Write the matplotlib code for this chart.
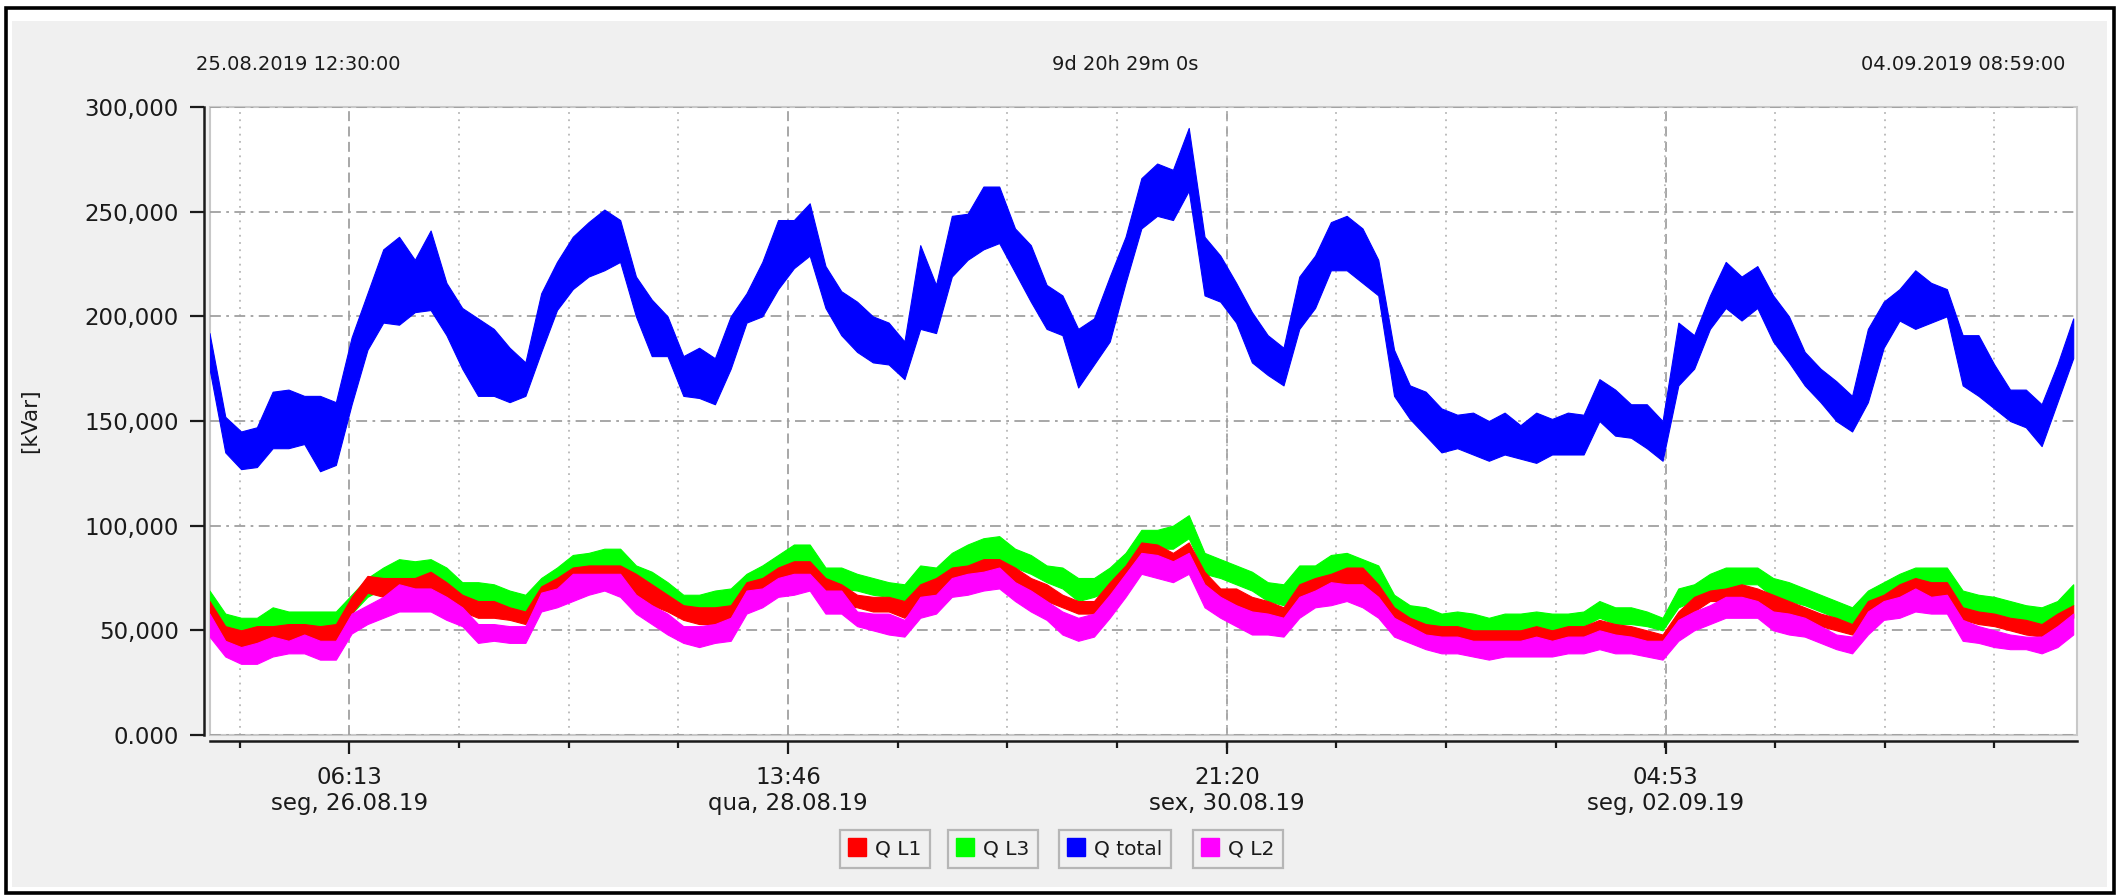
"""
Reactive power per phase and total, 25.08.2019 - 04.09.2019.
Writes out.png (2119 x 896) in the style of the metering software export.
"""
import numpy as np
import matplotlib
matplotlib.use("Agg")
import matplotlib.pyplot as plt
from matplotlib.lines import Line2D
from matplotlib.patches import Rectangle
from matplotlib.ticker import FixedLocator

INK, PANEL = "#1A1A1A", "#F0F0F0"
GRID, GRID_MINOR, FRAME = "#A0A0A0", "#B8B8B8", "#C8C8C8"
RED, GREEN, BLUE, MAGENTA = "#FF0000", "#00FF00", "#0000FF", "#FF00FF"

START_LABEL = "25.08.2019 12:30:00"
SPAN_LABEL = "9d 20h 29m 0s"
END_LABEL = "04.09.2019 08:59:00"
SPAN_HOURS = 236.48

# axis ticks (hours after 25.08.2019 12:30)
MAJOR_HOURS = [17.717, 73.267, 128.833, 184.383]
MAJOR_LABELS = ["06:13\nseg, 26.08.19", "13:46\nqua, 28.08.19",
                "21:20\nsex, 30.08.19", "04:53\nseg, 02.09.19"]
YTICKS = [0, 50, 100, 150, 200, 250, 300]
YTICK_LABELS = ["0.000", "50,000", "100,000", "150,000", "200,000",
                "250,000", "300,000"]

# band envelopes (low / high) of each 1-min series, sampled every 2 h, kVar
HOURS = np.arange(0, 237, 2)

QT_HI = [192, 152, 145, 147, 164, 165, 162, 162, 159, 190, 211, 232, 238, 227,
         241, 216, 204, 199, 194, 185, 178, 211, 226, 238, 245, 251, 246, 219,
         208, 200, 181, 185, 180, 200, 211, 226, 246, 246, 254, 224,
         212, 207, 200, 197, 188, 234, 215, 248, 249, 262, 262, 242, 234, 215,
         210, 194, 199, 219, 238, 266, 273, 270, 290, 238, 229, 216, 202, 191,
         185, 219, 229, 245, 248, 242, 227, 184, 167, 164, 156,
         153, 154, 150, 154, 148, 154, 151, 154, 153, 170, 165, 158, 158, 150,
         197, 191, 210, 226, 219, 224, 210, 200, 183, 175, 169, 162, 194, 207,
         213, 222, 216, 213, 191, 191, 177, 165, 165, 158, 177, 199]
QT_LO = [175, 135, 127, 128, 137, 137, 139, 126, 129, 158, 184, 197, 196, 202,
         203, 191, 175, 162, 162, 159, 162, 183, 203, 213, 219, 222, 226, 200,
         181, 181, 162, 161, 158, 175, 197, 200, 213, 223, 229, 204,
         191, 183, 178, 177, 170, 194, 192, 219, 227, 232, 235, 221, 207, 194,
         191, 166, 177, 188, 216, 242, 248, 246, 260, 210, 207, 197, 178, 172,
         167, 194, 204, 222, 222, 216, 210, 162, 151, 143, 135,
         137, 134, 131, 134, 132, 130, 134, 134, 134, 150, 143, 142, 137, 131,
         167, 175, 194, 204, 198, 204, 188, 178, 167, 159, 150, 145, 159, 185,
         198, 194, 197, 200, 167, 162, 156, 150, 147, 138, 159, 180]

L3_HI = [69, 58, 56, 56, 61, 59, 59, 59, 59, 67, 75, 80, 84, 83, 84, 80, 73,
         73, 72, 69, 67, 75, 80, 86, 87, 89, 89, 81, 78, 73, 67, 67, 69, 70,
         77, 81, 86, 91, 91, 80,
         80, 77, 75, 73, 72, 81, 80, 87, 91, 94, 95, 89, 86, 81, 80, 75, 75,
         80, 87, 98, 98, 100, 105, 87, 84, 81, 78, 73, 72, 81, 81, 86, 87, 84,
         81, 67, 62, 61, 58,
         59, 58, 56, 58, 58, 59, 58, 58, 59, 64, 61, 61, 59, 56, 70, 72, 77,
         80, 80, 80, 75, 73, 70, 67, 64, 61, 69, 73, 77, 80, 80, 80, 69, 67,
         66, 64, 62, 61, 64, 72]
L3_LO = [60, 48, 47, 48, 52, 52, 52, 52, 52, 58, 66, 70, 73, 75, 75, 70, 66,
         64, 62, 61, 59, 64, 70, 75, 78, 80, 78, 72, 69, 64, 61, 61, 59, 61,
         67, 72, 77, 80, 81, 70,
         70, 69, 67, 66, 64, 72, 70, 77, 80, 83, 84, 80, 77, 73, 70, 64, 66,
         69, 77, 87, 89, 89, 94, 77, 75, 72, 69, 64, 62, 70, 72, 77, 77, 75,
         72, 59, 53, 53, 50,
         50, 50, 48, 50, 50, 52, 50, 52, 52, 56, 53, 53, 52, 50, 61, 64, 67,
         70, 72, 72, 66, 64, 62, 59, 56, 53, 61, 64, 67, 70, 70, 70, 61, 59,
         58, 56, 55, 53, 56, 62]

L1_HI = [64, 52, 50, 52, 52, 53, 53, 52, 53, 66, 76, 75, 75, 75, 78, 73, 67,
         64, 64, 61, 59, 71, 75, 80, 81, 81, 81, 77, 72, 67, 62, 61, 61, 62,
         73, 75, 80, 83, 83, 75,
         72, 67, 66, 66, 64, 72, 75, 80, 81, 84, 84, 80, 75, 72, 67, 64, 64,
         73, 81, 92, 91, 87, 92, 78, 70, 70, 66, 64, 61, 72, 75, 77, 80, 80,
         72, 61, 56, 53, 52,
         52, 50, 50, 50, 50, 52, 50, 52, 52, 55, 53, 52, 50, 48, 59, 66, 69,
         70, 72, 70, 67, 64, 61, 58, 56, 53, 64, 67, 72, 75, 73, 73, 61, 59,
         58, 56, 55, 53, 58, 62]
L1_LO = [55, 44, 42, 42, 45, 45, 45, 44, 45, 58, 68, 66, 67, 69, 70, 64, 59,
         56, 56, 55, 53, 62, 67, 70, 73, 73, 72, 67, 62, 59, 55, 53, 53, 55,
         64, 67, 70, 75, 73, 66,
         62, 61, 59, 59, 56, 64, 66, 72, 73, 75, 77, 70, 66, 64, 61, 58, 58,
         64, 73, 83, 83, 80, 83, 70, 64, 62, 59, 56, 55, 64, 66, 70, 72, 72,
         64, 55, 48, 47, 45,
         44, 44, 44, 44, 44, 45, 45, 45, 45, 48, 47, 47, 45, 44, 52, 59, 64,
         64, 66, 64, 59, 58, 55, 52, 50, 48, 56, 61, 64, 67, 66, 66, 55, 53,
         52, 50, 48, 47, 50, 56]

L2_HI = [58, 45, 42, 44, 47, 45, 48, 45, 45, 58, 62, 66, 72, 70, 70, 66, 61,
         53, 53, 52, 52, 68, 70, 77, 77, 77, 77, 67, 62, 58, 52, 52, 53, 56,
         69, 70, 75, 77, 77, 69,
         69, 59, 58, 58, 55, 66, 67, 75, 77, 78, 80, 73, 69, 64, 59, 56, 58,
         67, 77, 87, 86, 83, 87, 72, 66, 62, 59, 58, 56, 66, 69, 73, 72, 72,
         66, 56, 52, 48, 47,
         47, 45, 45, 45, 45, 47, 45, 47, 47, 50, 48, 47, 45, 45, 55, 59, 62,
         66, 66, 64, 59, 58, 56, 52, 48, 47, 59, 64, 66, 70, 66, 67, 55, 52,
         50, 48, 47, 47, 52, 58]
L2_LO = [47, 37.5, 34, 34, 37.5, 39, 39, 36, 36, 48.5, 53, 56, 59, 59, 59, 55,
         52, 44, 45, 44, 44, 59, 61, 64, 67, 69, 66, 58, 53, 48, 44, 42, 44,
         45, 58, 61, 66, 67, 69, 58,
         58, 52, 50, 48, 47, 56, 58, 66, 67, 69, 70, 64, 59, 55, 48, 45, 47,
         56, 66, 77, 75, 73, 77, 61, 56, 52, 48, 48, 47, 56, 61, 62, 64, 61,
         56, 47, 44, 41, 39,
         39, 37.5, 36, 37.5, 37.5, 37.5, 37.5, 39, 39, 41, 39, 39, 37.5, 36,
         45, 50, 53, 56, 56, 56, 50, 48, 47, 44, 41, 39, 48, 55, 56, 59, 58,
         58, 45, 44, 42, 41, 41, 39, 42, 48]

# legend order as shown under the chart
SERIES = [("Q L1", RED, L1_LO, L1_HI, 3),
          ("Q L3", GREEN, L3_LO, L3_HI, 2),
          ("Q total", BLUE, QT_LO, QT_HI, 3),
          ("Q L2", MAGENTA, L2_LO, L2_HI, 4)]


def px(x, y):
    """figure pixel (from top-left) -> figure fraction"""
    return x / 2119, 1 - y / 896


def draw_frame(fig):
    fig.patches.append(Rectangle(px(12, 887), 2095 / 2119, 866 / 896,
                                 transform=fig.transFigure, fc=PANEL,
                                 ec="none", zorder=-10))
    fig.patches.append(Rectangle(px(6, 893), 2108 / 2119, 885 / 896,
                                 transform=fig.transFigure, fill=False,
                                 ec="black", lw=2.6, zorder=-9))


def style_axes(ax):
    ax.set_facecolor("white")
    ax.set_xlim(0, SPAN_HOURS)
    ax.set_ylim(0, 300)
    for side in ("top", "right"):
        ax.spines[side].set_visible(False)
    for side in ("left", "bottom"):
        ax.spines[side].set_position(("outward", 4))
        ax.spines[side].set_color(INK)
        ax.spines[side].set_linewidth(1.8)
    ax.add_patch(Rectangle((0, 0), 1, 1, transform=ax.transAxes, fill=False,
                           ec=FRAME, lw=1.5, zorder=0.4, clip_on=False))

    quarter = (MAJOR_HOURS[1] - MAJOR_HOURS[0]) / 4
    minor = np.arange(MAJOR_HOURS[0] - quarter, SPAN_HOURS, quarter)
    ax.xaxis.set_major_locator(FixedLocator(MAJOR_HOURS))
    ax.xaxis.set_minor_locator(FixedLocator(minor))
    ax.set_xticklabels(MAJOR_LABELS)
    ax.set_yticks(YTICKS)
    ax.set_yticklabels(YTICK_LABELS)

    ax.tick_params(axis="y", length=10, width=1.6, pad=8, labelsize=16.5,
                   colors=INK)
    ax.tick_params(axis="x", which="major", length=9.5, width=1.6, pad=8.5,
                   labelsize=16.5, colors=INK)
    ax.tick_params(axis="x", which="minor", length=5, width=1.6, colors=INK)

    ax.set_axisbelow(True)
    ax.grid(axis="y", which="major", color=GRID, lw=1.3,
            ls=(0, (6, 3, 1.5, 3)))
    ax.grid(axis="x", which="major", color=GRID, lw=1.3, ls=(0, (5.5, 3)))
    ax.grid(axis="x", which="minor", color=GRID_MINOR, lw=1.3, ls=(0, (1, 3)))


def draw_legend(fig):
    centres = [885, 993, 1115, 1238]
    for (name, color, *_), cx in zip(SERIES, centres):
        h = Line2D([], [], marker="s", ls="none", color=color, markersize=13)
        leg = fig.legend([h], [name], loc="center",
                         bbox_to_anchor=px(cx, 849), frameon=True,
                         fancybox=False, fontsize=14.5, handlelength=0.8,
                         handletextpad=0.5, borderpad=0.45, borderaxespad=0)
        frame = leg.get_frame()
        frame.set_edgecolor("#A8A8A8")
        frame.set_facecolor(PANEL)
        frame.set_linewidth(1.6)
        for t in leg.get_texts():
            t.set_color(INK)


def main():
    plt.rcParams.update({"font.family": "DejaVu Sans", "text.color": INK})
    fig = plt.figure(figsize=(21.19, 8.96), dpi=100, facecolor="white")
    draw_frame(fig)

    left, bottom = px(209.5, 735)
    right, top = px(2077, 107)
    ax = fig.add_axes([left, bottom, right - left, top - bottom])
    style_axes(ax)

    for name, color, lo, hi, z in SERIES:
        ax.fill_between(HOURS, lo, hi, color=color, edgecolor=color, lw=0.8,
                        zorder=z, label=name)

    fig.text(*px(196, 65), START_LABEL, ha="left", va="center", fontsize=14)
    fig.text(*px(1125, 65), SPAN_LABEL, ha="center", va="center",
             fontsize=14)
    fig.text(*px(2065, 65), END_LABEL, ha="right", va="center", fontsize=14)
    fig.text(*px(30, 421), "[kVar]", rotation=90, ha="center", va="center",
             fontsize=15.5)

    draw_legend(fig)
    fig.savefig("out.png", dpi=100, facecolor="white")
    plt.close(fig)


if __name__ == "__main__":
    main()
